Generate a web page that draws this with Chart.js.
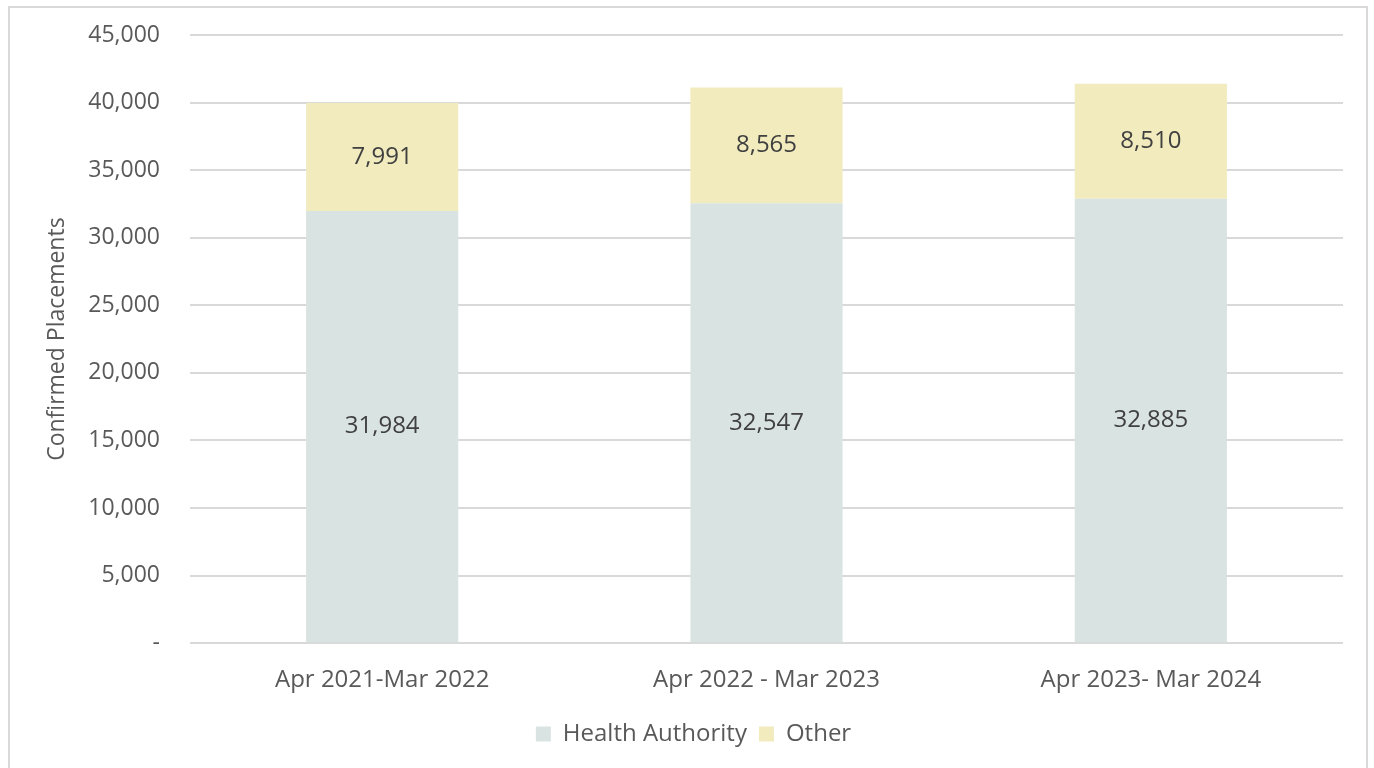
<!DOCTYPE html>
<html>
<head>
<meta charset="utf-8">
<script src="https://cdn.jsdelivr.net/npm/chart.js@4"></script>
<style>
  html, body { margin: 0; padding: 0; background: #fff; overflow: hidden; }
  #frame {
    position: absolute; left: 8px; top: 6px; width: 1360px; height: 780px;
    border: 2px solid #d9d9d9; box-sizing: border-box;
  }
  #placements { position: absolute; left: 0; top: 0; }
</style>
</head>
<body>
<div id="frame"></div>
<canvas id="placements" width="1374" height="768"></canvas>
<script>
// Confirmed placements by year, split into Health Authority and Other
const periods = ['Apr 2021-Mar 2022', 'Apr 2022 - Mar 2023', 'Apr 2023- Mar 2024'];
const healthAuthority = [31984, 32547, 32885];
const other = [7991, 8565, 8510];
const yTicks = [0, 5000, 10000, 15000, 20000, 25000, 30000, 35000, 40000, 45000];

const FONT = "'Open Sans', 'Noto Sans', sans-serif";

// etiquetas dentro de cada segmento
const segmentLabels = {
  id: 'segmentLabels',
  afterDatasetsDraw(chart) {
    const ctx = chart.ctx;
    ctx.save();
    ctx.font = `24px ${FONT}`;
    ctx.fillStyle = '#404040';
    ctx.textAlign = 'center';
    ctx.textBaseline = 'middle';
    chart.data.datasets.forEach((ds, i) => {
      chart.getDatasetMeta(i).data.forEach((bar, j) => {
        const mid = (bar.y + bar.base) / 2;
        ctx.fillText(ds.data[j].toLocaleString('en-US'), bar.x, mid);
      });
    });
    ctx.restore();
  },
};

new Chart(document.getElementById('placements'), {
  type: 'bar',
  data: {
    labels: periods,
    datasets: [
      { label: 'Health Authority', data: healthAuthority, backgroundColor: '#d9e4e2' },
      { label: 'Other', data: other, backgroundColor: '#f1ebbe' },
    ],
  },
  options: {
    responsive: false,
    animation: false,
    categoryPercentage: 1,
    barPercentage: 0.396,
    layout: { padding: { top: 35, right: 31, bottom: 12, left: 44 } },
    plugins: {
      tooltip: { enabled: false },
      legend: {
        position: 'bottom',
        labels: {
          font: { family: FONT, size: 24 },
          color: '#595959',
          boxWidth: 15,
          boxHeight: 15,
          padding: 12,
        },
      },
    },
    scales: {
      x: {
        stacked: true,
        grid: { display: false },
        border: { display: false },
        ticks: { font: { family: FONT, size: 24 }, color: '#595959', padding: 15, maxRotation: 0 },
      },
      y: {
        stacked: true,
        min: 0,
        max: 45000,
        afterFit: (scale) => { scale.width = 146; },
        afterBuildTicks: (scale) => { scale.ticks = yTicks.map((v) => ({ value: v })); },
        grid: { color: '#d9d9d9', lineWidth: 2, drawTicks: true, tickLength: 30, tickColor: 'rgba(0,0,0,0)' },
        border: { display: false },
        ticks: {
          font: { family: FONT, size: 23 },
          color: '#595959',
          padding: 0,
          callback: (v) => (v === 0 ? '-' : v.toLocaleString('en-US')),
        },
        title: {
          display: true,
          text: 'Confirmed Placements',
          font: { family: FONT, size: 23 },
          color: '#595959',
          padding: { top: 0, bottom: 0 },
        },
      },
    },
  },
  plugins: [segmentLabels],
});
</script>
</body>
</html>
